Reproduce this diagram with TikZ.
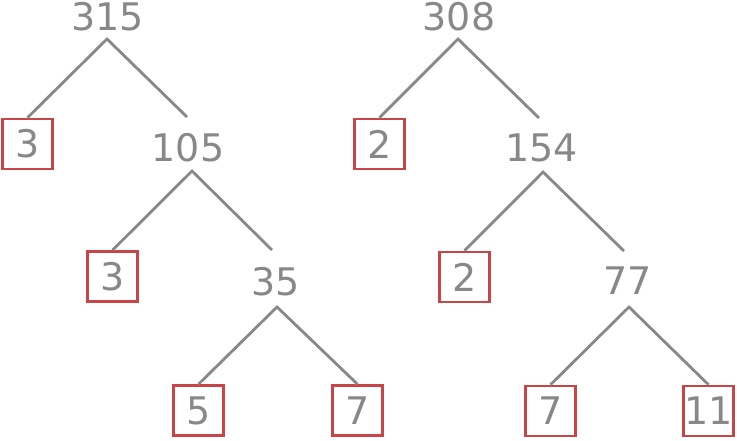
\documentclass[tikz,border=0pt]{standalone}
\usepackage{fontspec}
\setmainfont{DejaVu Sans}
\usepackage{tikz}
\usetikzlibrary{positioning,calc}
\definecolor{grigio}{RGB}{136,136,136}
\definecolor{rosso}{RGB}{201,68,70}
\tikzstyle{numero} = [inner sep=0pt, text=grigio, font=\fontsize{38}{38}\selectfont]
\tikzstyle{primo} = [rectangle, minimum size=50pt, inner sep=0pt, draw=rosso, line width=2.6pt, text=grigio, font=\fontsize{38}{38}\selectfont]
\tikzstyle{ramo} = [draw=grigio, line width=2.8pt]

\begin{document}
\begin{tikzpicture}[x=1pt,y=-1pt]
						\useasboundingbox (0,0) rectangle (737,440);
						% primo albero
						\node (n315) at (107.5,16.5) [numero] {315};
						\node (p3a) at (27.5,144) [primo] {3};
						\node (n105) at (188,147.5) [numero] {105};
						\node (p3b) at (112.5,276.5) [primo] {3};
						\node (n35) at (276,281.5) [numero] {35};
						\node (p5) at (198.5,410.5) [primo] {5};
						\node (p7a) at (357.5,410.5) [primo] {7};
						\coordinate (f315) at (107,39);
						\coordinate (f105) at (192,171);
						\coordinate (f35) at (277,307);
						\coordinate (e105) at (187,117);
						\coordinate (e35) at (272,250);
						\draw[ramo] (p3a.north) -- (f315) -- (e105);
						\draw[ramo] (p3b.north) -- (f105) -- (e35);
						\draw[ramo] (p5.north) -- (f35) -- (p7a.north);
						% secondo albero
						\node (n308) at (459,16.5) [numero] {308};
						\node (p2a) at (379.5,144) [primo] {2};
						\node (n154) at (541.5,147.5) [numero] {154};
						\node (p2b) at (464.5,277) [primo] {2};
						\node (n77) at (627.5,281) [numero] {77};
						\node (p7b) at (550.5,411) [primo] {7};
						\node (p11) at (708.5,411) [primo] {11};
						\coordinate (f308) at (458,39);
						\coordinate (f154) at (543,172);
						\coordinate (f77) at (629,307);
						\coordinate (e154) at (539,118);
						\coordinate (e77) at (624,251);
						\draw[ramo] (p2a.north) -- (f308) -- (e154);
						\draw[ramo] (p2b.north) -- (f154) -- (e77);
						\draw[ramo] (p7b.north) -- (f77) -- (p11.north);
					\end{tikzpicture}
\end{document}
